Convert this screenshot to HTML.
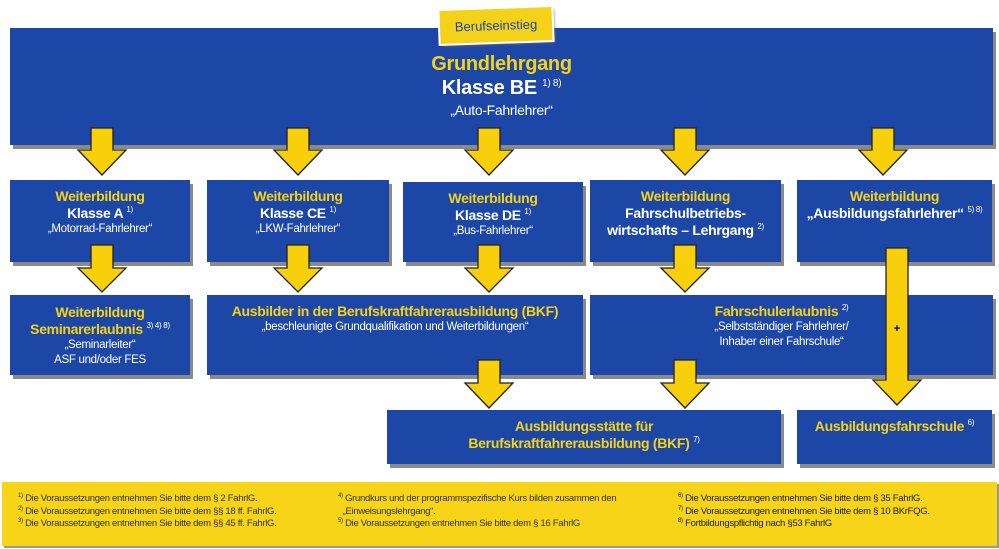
<!DOCTYPE html>
<html><head><meta charset="utf-8"><style>
body{margin:0;width:999px;height:549px;background:#fff;position:relative;overflow:hidden;font-family:"Liberation Sans",sans-serif}
.b{position:absolute;background:#1d47a6;box-shadow:3px 4px 0 #8a8a8a;color:#fff;text-align:center;box-sizing:border-box;letter-spacing:-0.3px}
.y{color:#f5d21a;font-weight:bold}
.w{font-weight:bold}
sup{font-size:8px;font-weight:normal;vertical-align:6px;line-height:0}
.t{font-size:14px;line-height:17px}
.s{font-size:11.5px;line-height:15px}
svg{position:absolute;left:0;top:0}
.ft{position:absolute;font-size:9.5px;line-height:12.5px;color:#333;letter-spacing:-0.3px}
.ft sup{font-size:6px;vertical-align:4px}
</style></head><body>
<div class="b" style="left:10px;top:28px;width:983px;height:117px;padding-top:24px">
<div class="y" style="font-size:20px;line-height:24px">Grundlehrgang</div>
<div class="w" style="font-size:20px;line-height:24px">Klasse BE <sup style="font-size:10px;vertical-align:8px">1) 8)</sup></div>
<div style="font-size:14px;line-height:20px">„Auto-Fahrlehrer“</div>
</div>
<div style="position:absolute;left:440px;top:9px;width:112px;height:33px;background:#f5d21a;transform:rotate(-2deg);box-shadow:0 0 0 2px #fff,2px 2px 3px #777;font-size:13px;line-height:33px;text-align:center;color:#1d47a6">Berufseinstieg</div>

<div class="b" style="left:10px;top:180px;width:180px;height:82px;padding-top:8px"><div class="y t">Weiterbildung</div><div class="w t">Klasse A <sup>1)</sup></div><div class="s">„Motorrad-Fahrlehrer“</div></div>
<div class="b" style="left:207px;top:180px;width:182px;height:82px;padding-top:8px"><div class="y t">Weiterbildung</div><div class="w t">Klasse CE <sup>1)</sup></div><div class="s">„LKW-Fahrlehrer“</div></div>
<div class="b" style="left:403px;top:182px;width:180px;height:80px;padding-top:8px"><div class="y t">Weiterbildung</div><div class="w t">Klasse DE <sup>1)</sup></div><div class="s">„Bus-Fahrlehrer“</div></div>
<div class="b" style="left:590px;top:180px;width:191px;height:82px;padding-top:8px"><div class="y t">Weiterbildung</div><div class="w t">Fahrschulbetriebs-</div><div class="w t">wirtschafts – Lehrgang <sup>2)</sup></div></div>
<div class="b" style="left:797px;top:180px;width:195px;height:82px;padding-top:8px"><div class="y t">Weiterbildung</div><div class="w t">„Ausbildungsfahrlehrer“ <sup>5) 8)</sup></div></div>

<div class="b" style="left:10px;top:295px;width:180px;height:80px;padding-top:9px"><div class="y t">Weiterbildung</div><div class="y t">Seminarerlaubnis <sup style="color:#fff">3) 4) 8)</sup></div><div class="s">„Seminarleiter“</div><div class="s">ASF und/oder FES</div></div>
<div class="b" style="left:207px;top:295px;width:376px;height:80px;padding-top:8px"><div class="y t">Ausbilder in der Berufskraftfahrerausbildung (BKF)</div><div class="s">„beschleunigte Grundqualifikation und Weiterbildungen“</div></div>
<div class="b" style="left:590px;top:295px;width:403px;height:80px;padding-top:8px;padding-right:20px"><div class="y t">Fahrschulerlaubnis <sup style="color:#fff">2)</sup></div><div class="s">„Selbstständiger Fahrlehrer/</div><div class="s">Inhaber einer Fahrschule“</div></div>

<div class="b" style="left:387px;top:410px;width:394px;height:54px;padding-top:8px"><div class="y t">Ausbildungsstätte für</div><div class="y t">Berufskraftfahrerausbildung (BKF) <sup style="color:#fff">7)</sup></div></div>
<div class="b" style="left:797px;top:410px;width:195px;height:54px;padding-top:8px"><div class="y t">Ausbildungsfahrschule <sup style="color:#fff">6)</sup></div></div>

<svg width="999" height="549">
<g fill="#f7cf0a" stroke="#222" stroke-width="1.3">
<polygon points="91,128 113,128 113,150 126,150 102,175 78,150 91,150"/>
<polygon points="287,128 309,128 309,150 322,150 298,175 274,150 287,150"/>
<polygon points="478,128 500,128 500,150 513,150 489,175 465,150 478,150"/>
<polygon points="674,128 696,128 696,150 709,150 685,175 661,150 674,150"/>
<polygon points="872,128 894,128 894,150 907,150 883,175 859,150 872,150"/>
<polygon points="91,245 113,245 113,268 126,268 102,292 78,268 91,268"/>
<polygon points="287,245 309,245 309,268 322,268 298,292 274,268 287,268"/>
<polygon points="478,245 500,245 500,268 513,268 489,292 465,268 478,268"/>
<polygon points="674,245 696,245 696,268 709,268 685,292 661,268 674,268"/>
<polygon points="478,360 500,360 500,383 513,383 489,408 465,383 478,383"/>
<polygon points="674,360 696,360 696,383 709,383 685,408 661,383 674,383"/>
<polygon points="886,248 908,248 908,380 921,380 897,405 873,380 886,380"/>
</g>
<text x="897" y="332" font-size="11" font-weight="bold" text-anchor="middle" font-family="Liberation Sans">+</text>
</svg>

<div style="position:absolute;left:2px;top:482px;width:995px;height:64px;background:#f7d417;box-shadow:2px 2px 0 #999"></div>
<div class="ft" style="left:18px;top:493px"><sup>1)</sup> Die Voraussetzungen entnehmen Sie bitte dem § 2 FahrlG.<br><sup>2)</sup> Die Voraussetzungen entnehmen Sie bitte dem §§ 18 ff. FahrlG.<br><sup>3)</sup> Die Voraussetzungen entnehmen Sie bitte dem §§ 45 ff. FahrlG.</div>
<div class="ft" style="left:338px;top:493px"><sup>4)</sup> Grundkurs und der programmspezifische Kurs bilden zusammen den<br>&nbsp;&nbsp;„Einweisungslehrgang“.<br><sup>5)</sup> Die Voraussetzungen entnehmen Sie bitte dem § 16 FahrlG</div>
<div class="ft" style="left:678px;top:493px;color:#222"><sup>6)</sup> Die Voraussetzungen entnehmen Sie bitte dem § 35 FahrlG.<br><sup>7)</sup> Die Voraussetzungen entnehmen Sie bitte dem § 10 BKrFQG.<br><sup>8)</sup> Fortbildungspflichtig nach §53 FahrlG</div>
</body></html>
